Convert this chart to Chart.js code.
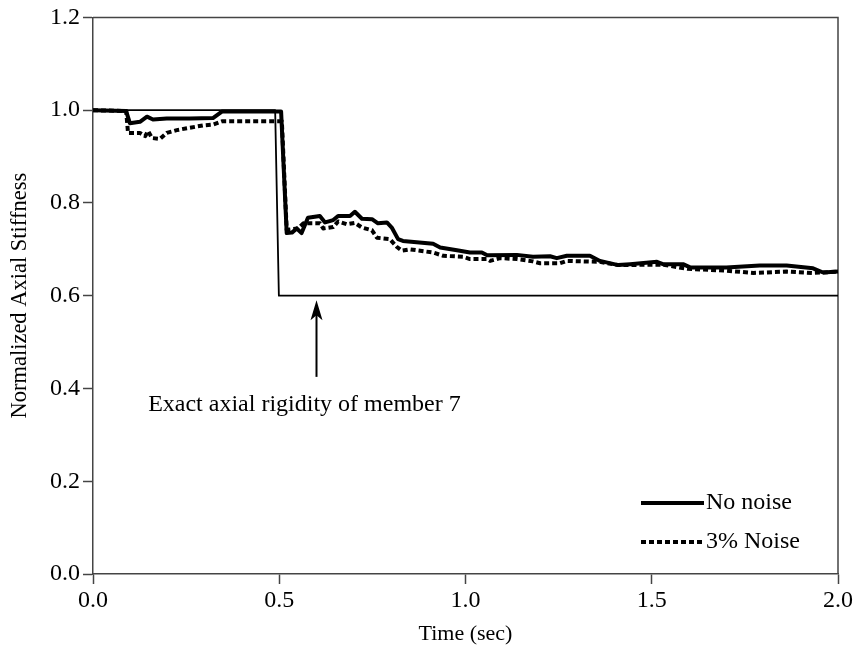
<!DOCTYPE html>
<html>
<head>
<meta charset="utf-8">
<script src="https://cdn.jsdelivr.net/npm/chart.js@4/dist/chart.umd.min.js"></script>
<style>
  html, body { margin: 0; padding: 0; background: #fff; }
  #wrap { width: 858px; height: 656px; }
</style>
</head>
<body>
<div id="wrap"><canvas id="stiffChart" width="858" height="656"></canvas></div>
<script>
// Exact (true) axial rigidity of member 7
var exactTime  = [0, 0.489, 0.499, 2.0];
var exactStiff = [1.0, 1.0, 0.6, 0.6];

// Identified stiffness, no measurement noise
var noNoiseTime = [0, 0.089, 0.099, 0.126, 0.145, 0.161, 0.198, 0.26, 0.322, 0.346, 0.505,
  0.52, 0.534, 0.547, 0.56, 0.577, 0.609, 0.623, 0.645, 0.658, 0.69, 0.703, 0.722, 0.749,
  0.765, 0.789, 0.802, 0.819, 0.832, 0.913, 0.932, 0.977, 1.012, 1.044, 1.058, 1.138, 1.181,
  1.227, 1.245, 1.272, 1.334, 1.361, 1.41, 1.442, 1.514, 1.53, 1.584, 1.603, 1.7, 1.79,
  1.862, 1.933, 1.96, 2.0];
var noNoiseStiff = [1.0, 0.998, 0.972, 0.975, 0.986, 0.980, 0.982, 0.982, 0.983, 0.997, 0.997,
  0.735, 0.736, 0.745, 0.735, 0.768, 0.772, 0.758, 0.763, 0.772, 0.772, 0.781, 0.766, 0.765,
  0.756, 0.758, 0.747, 0.722, 0.718, 0.712, 0.704, 0.698, 0.693, 0.693, 0.687, 0.688, 0.684,
  0.685, 0.681, 0.686, 0.686, 0.675, 0.666, 0.668, 0.673, 0.668, 0.668, 0.661, 0.661, 0.665,
  0.665, 0.659, 0.650, 0.652];

// Identified stiffness, 3% noise
var noiseTime = [0, 0.089, 0.094, 0.126, 0.14, 0.148, 0.158, 0.18, 0.198, 0.225, 0.252, 0.295,
  0.322, 0.346, 0.507, 0.52, 0.55, 0.565, 0.609, 0.618, 0.645, 0.658, 0.681, 0.703, 0.722,
  0.749, 0.762, 0.797, 0.816, 0.829, 0.851, 0.913, 0.94, 0.993, 1.012, 1.058, 1.066, 1.093,
  1.138, 1.181, 1.2, 1.254, 1.272, 1.36, 1.41, 1.53, 1.595, 1.70, 1.773, 1.862, 1.933, 2.0];
var noiseStiff = [1.0, 0.998, 0.951, 0.951, 0.944, 0.955, 0.940, 0.938, 0.951, 0.957, 0.961, 0.967,
  0.969, 0.976, 0.976, 0.742, 0.745, 0.756, 0.756, 0.745, 0.748, 0.760, 0.754, 0.757, 0.747,
  0.741, 0.725, 0.722, 0.705, 0.697, 0.700, 0.693, 0.686, 0.684, 0.679, 0.679, 0.675, 0.681,
  0.679, 0.674, 0.670, 0.670, 0.675, 0.673, 0.666, 0.667, 0.658, 0.654, 0.649, 0.652, 0.649, 0.652];

// Arrow pointing at the exact value, plus its caption (data coordinates)
var arrowTime = 0.6;
var arrowTip = 0.59;
var arrowBase = 0.425;
var noteText = 'Exact axial rigidity of member 7';
var noteTime = 0.148;
var noteStiff = 0.366;

var FONT = "'Liberation Serif', 'Times New Roman', serif";
var AXIS_COLOR = '#444';

function toPoints(xs, ys) {
  var pts = [];
  for (var i = 0; i < xs.length; i++) {
    pts.push({ x: xs[i], y: ys[i] });
  }
  return pts;
}

// Frame on top and right of the plot box
var framePlugin = {
  id: 'frame',
  beforeDatasetsDraw: function(chart) {
    var a = chart.chartArea, ctx = chart.ctx;
    ctx.save();
    ctx.strokeStyle = AXIS_COLOR;
    ctx.lineWidth = 1.5;
    ctx.beginPath();
    ctx.moveTo(a.left, a.top);
    ctx.lineTo(a.right, a.top);
    ctx.lineTo(a.right, a.bottom);
    ctx.stroke();
    ctx.restore();
  }
};

// Arrow + caption
var notePlugin = {
  id: 'note',
  afterDatasetsDraw: function(chart) {
    var ctx = chart.ctx;
    var xs = chart.scales.x, ys = chart.scales.y;
    var ax = xs.getPixelForValue(arrowTime);
    var tipY = ys.getPixelForValue(arrowTip);
    var baseY = ys.getPixelForValue(arrowBase);
    ctx.save();
    ctx.strokeStyle = '#000';
    ctx.fillStyle = '#000';
    ctx.lineWidth = 2;
    ctx.beginPath();
    ctx.moveTo(ax, baseY);
    ctx.lineTo(ax, tipY + 10);
    ctx.stroke();
    ctx.beginPath();
    ctx.moveTo(ax, tipY);
    ctx.lineTo(ax - 6, tipY + 20);
    ctx.lineTo(ax, tipY + 15);
    ctx.lineTo(ax + 6, tipY + 20);
    ctx.closePath();
    ctx.fill();

    ctx.font = '24px ' + FONT;
    ctx.textAlign = 'left';
    ctx.textBaseline = 'middle';
    ctx.fillText(noteText, xs.getPixelForValue(noteTime), ys.getPixelForValue(noteStiff));
    ctx.restore();
  }
};

// Legend in the lower right corner of the plot
var legendPlugin = {
  id: 'cornerLegend',
  afterDatasetsDraw: function(chart) {
    var ctx = chart.ctx;
    var items = chart.data.datasets.filter(function(d) { return d.inLegend; });
    ctx.save();
    ctx.font = '24px ' + FONT;
    ctx.textAlign = 'left';
    ctx.textBaseline = 'middle';
    for (var i = 0; i < items.length; i++) {
      var y = 503 + i * 39;
      ctx.strokeStyle = items[i].borderColor;
      ctx.lineWidth = items[i].borderWidth;
      ctx.setLineDash(items[i].borderDash || []);
      ctx.beginPath();
      ctx.moveTo(641, y);
      ctx.lineTo(704, y);
      ctx.stroke();
      ctx.setLineDash([]);
      ctx.fillStyle = '#000';
      ctx.fillText(items[i].label, 706, y);
    }
    ctx.restore();
  }
};

var ctx = document.getElementById('stiffChart').getContext('2d');
var chart = new Chart(ctx, {
  type: 'line',
  data: {
    datasets: [
      {
        label: 'Exact',
        data: toPoints(exactTime, exactStiff),
        borderColor: '#000',
        borderWidth: 1.8,
        inLegend: false
      },
      {
        label: 'No noise',
        data: toPoints(noNoiseTime, noNoiseStiff),
        borderColor: '#000',
        borderWidth: 4,
        inLegend: true
      },
      {
        label: '3% Noise',
        data: toPoints(noiseTime, noiseStiff),
        borderColor: '#000',
        borderWidth: 4,
        borderDash: [5, 3],
        inLegend: true
      }
    ]
  },
  options: {
    responsive: false,
    animation: false,
    clip: false,
    layout: { padding: { top: 16, right: 20, left: 0, bottom: 0 } },
    elements: {
      point: { radius: 0 },
      line: { tension: 0, borderJoinStyle: 'round', borderCapStyle: 'butt' }
    },
    plugins: {
      legend: { display: false },
      tooltip: { enabled: false }
    },
    scales: {
      x: {
        type: 'linear',
        min: 0,
        max: 2.0,
        afterFit: function(scale) { scale.height = 82; },
        border: { display: true, color: AXIS_COLOR, width: 1.5 },
        grid: { drawOnChartArea: false, drawTicks: true, tickLength: 10, color: AXIS_COLOR, tickWidth: 1.5 },
        ticks: {
          stepSize: 0.5,
          padding: 2,
          color: '#000',
          font: { family: FONT, size: 24 },
          maxRotation: 0,
          callback: function(v) { return v.toFixed(1); }
        },
        title: {
          display: true,
          text: 'Time (sec)',
          color: '#000',
          font: { family: FONT, size: 22 },
          padding: { top: 0, bottom: 9 }
        }
      },
      y: {
        min: 0,
        max: 1.2,
        afterFit: function(scale) { scale.width = 93; },
        border: { display: true, color: AXIS_COLOR, width: 1.5 },
        grid: { drawOnChartArea: false, drawTicks: true, tickLength: 10, color: AXIS_COLOR, tickWidth: 1.5 },
        ticks: {
          stepSize: 0.2,
          padding: 3,
          color: '#000',
          font: { family: FONT, size: 24 },
          callback: function(v) { return v.toFixed(1); }
        },
        title: {
          display: true,
          text: 'Normalized Axial Stiffness',
          color: '#000',
          font: { family: FONT, size: 22.5 },
          padding: { top: 7, bottom: 0 }
        }
      }
    }
  },
  plugins: [framePlugin, notePlugin, legendPlugin]
});
</script>
</body>
</html>
